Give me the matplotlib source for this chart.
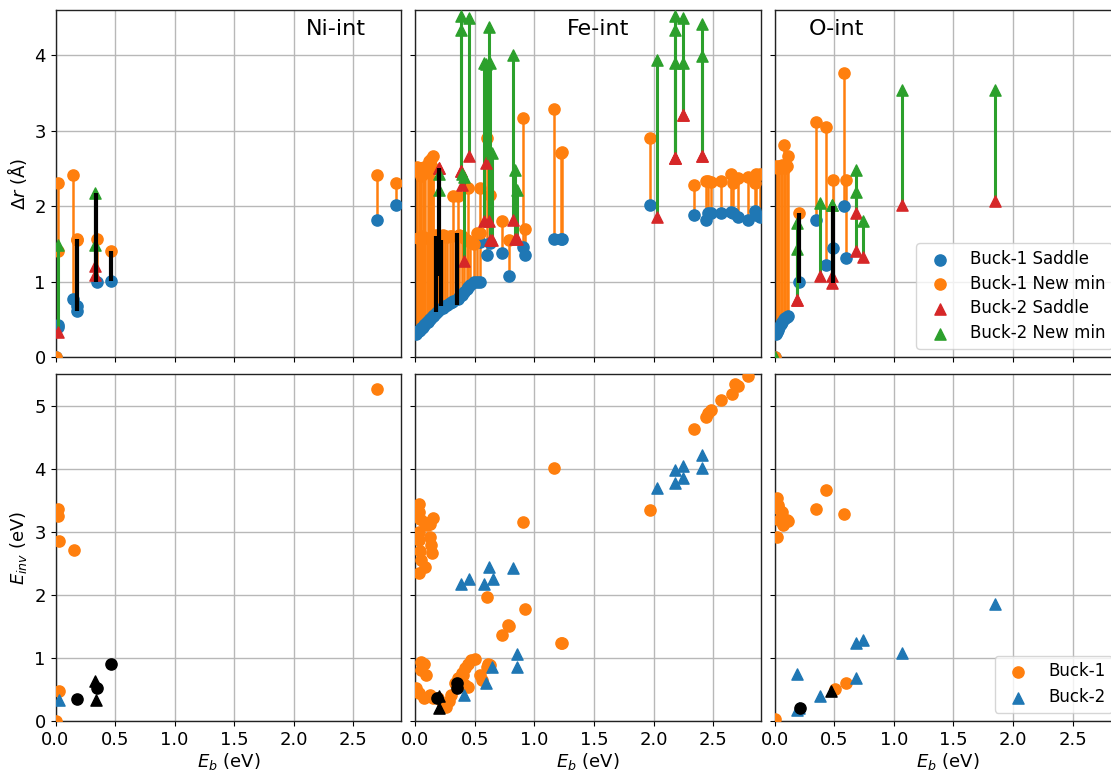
import matplotlib
matplotlib.use("Agg")
import matplotlib.pyplot as plt

BLUE = "#1f77b4"
ORANGE = "#ff7f0e"
RED = "#d62728"
GREEN = "#2ca02c"

# ---------------- Ni-int ----------------
ni_b1_eb = [0.0, 0.023, 0.025, 0.15, 0.18, 0.18, 0.345, 0.47, 2.70, 2.86]
ni_b1_sad = [0.0, 0.42, 0.40, 0.77, 0.61, 0.67, 1.00, 1.01, 1.82, 2.01]
ni_b1_min = [0.0, 2.31, 1.40, 2.41, 1.57, 1.55, 1.57, 1.40, 2.41, 2.31]
ni_b2_eb = [0.02, 0.33, 0.335]
ni_b2_sad = [0.33, 1.20, 1.09]
ni_b2_min = [1.48, 1.49, 2.18]
ni_both_eb = [0.18, 0.34, 0.47]
ni_both_lo = [0.61, 1.00, 1.01]
ni_both_hi = [1.57, 2.18, 1.40]
ni_inv1_eb = [0.0, 0.023, 0.023, 0.03, 0.152, 0.03, 2.70]
ni_inv1 = [0.0, 3.36, 3.26, 2.86, 2.71, 0.47, 5.26]
ni_inv2_eb = [0.03]
ni_inv2 = [0.33]
ni_invk1_eb = [0.18, 0.347, 0.47]
ni_invk1 = [0.35, 0.52, 0.90]
ni_invk2_eb = [0.328, 0.34]
ni_invk2 = [0.63, 0.33]

# ---------------- Fe-int ----------------
fe_b1_eb = [0.005, 0.015, 0.025, 0.030, 0.040, 0.050, 0.055, 0.065, 0.075, 0.085,
            0.095, 0.105, 0.115, 0.125, 0.135, 0.145, 0.150, 0.160, 0.170, 0.190,
            0.210, 0.230, 0.250, 0.270, 0.290, 0.310, 0.320, 0.360, 0.370, 0.390,
            0.410, 0.430, 0.440, 0.460, 0.490, 0.520, 0.540, 0.540, 0.600, 0.630,
            0.730, 0.790, 0.900, 0.920, 1.160, 1.220, 1.230, 1.970, 2.340, 2.440,
            2.460, 2.480, 2.570, 2.650, 2.670, 2.710, 2.790, 2.850, 2.860, 2.890]
fe_b1_sad = [0.31, 0.33, 0.34, 0.35, 0.36, 0.38, 0.39, 0.40, 0.42, 0.44,
             0.46, 0.47, 0.49, 0.51, 0.52, 0.54, 0.55, 0.56, 0.58, 0.61,
             0.63, 0.65, 0.67, 0.69, 0.71, 0.73, 0.74, 0.77, 0.79, 0.82,
             0.86, 0.90, 0.93, 0.96, 0.99, 1.00, 1.00, 1.53, 1.35, 1.51,
             1.38, 1.07, 1.46, 1.35, 1.56, 1.56, 1.57, 2.02, 1.88, 1.82,
             1.91, 1.91, 1.91, 1.92, 1.91, 1.85, 1.81, 1.94, 1.88, 1.86]
fe_b1_min = [2.48, 2.52, 1.58, 2.45, 2.50, 2.40, 1.60, 2.47, 2.52, 2.44,
             1.58, 2.55, 2.60, 2.58, 2.63, 2.66, 2.50, 1.58, 1.62, 1.60,
             1.58, 1.62, 1.60, 1.59, 1.61, 1.60, 2.13, 2.13, 1.62, 1.60,
             1.58, 1.55, 2.24, 1.52, 1.50, 1.64, 2.24, 1.64, 2.90, 2.15,
             1.80, 1.55, 3.17, 1.70, 3.29, 2.70, 2.72, 2.90, 2.28, 2.33,
             2.33, 2.32, 2.33, 2.43, 2.30, 2.37, 2.38, 2.30, 2.42, 2.42]
fe_b2_eb = [0.20, 0.20, 0.38, 0.38, 0.39, 0.41, 0.45, 0.58, 0.59, 0.62, 0.63, 0.64,
            0.82, 0.84, 0.85, 2.03, 2.18, 2.18, 2.18, 2.25, 2.25, 2.41, 2.41]
fe_b2_sad = [2.50, 2.50, 2.46, 2.46, 2.28, 1.27, 2.66, 1.80, 2.57, 1.80, 1.55, 1.55,
             1.82, 1.57, 1.57, 1.86, 2.64, 2.64, 2.64, 3.21, 3.21, 2.67, 2.67]
fe_b2_min = [2.42, 2.22, 4.52, 4.34, 2.42, 2.39, 4.49, 3.90, 3.88, 4.38, 3.90, 2.70,
             4.01, 2.48, 2.22, 3.94, 4.52, 4.34, 3.90, 4.49, 3.90, 4.41, 3.99]
fe_both_eb = [0.174, 0.199, 0.216, 0.347]
fe_both_lo = [0.60, 1.07, 0.67, 0.69]
fe_both_hi = [1.60, 2.50, 1.55, 1.64]
fe_inv1_eb = [1.16, 0.90, 1.97, 2.34, 2.44, 2.46, 2.48, 2.57, 2.66, 2.68, 2.71, 2.79,
              0.60, 0.92, 0.73, 0.79, 0.78, 1.22, 1.23,
              0.03, 0.03, 0.04, 0.07, 0.10, 0.15, 0.12, 0.03, 0.03, 0.12, 0.13, 0.14,
              0.04, 0.05, 0.08, 0.03,
              0.05, 0.07, 0.05, 0.09, 0.01, 0.03, 0.07, 0.12, 0.15, 0.19, 0.23, 0.28,
              0.30, 0.33, 0.36, 0.39, 0.42, 0.44, 0.47, 0.50, 0.40, 0.42, 0.44, 0.54,
              0.56, 0.61, 0.63, 0.60, 0.26]
fe_inv1 = [4.01, 3.16, 3.35, 4.63, 4.83, 4.89, 4.94, 5.10, 5.18, 5.34, 5.31, 5.47,
           1.97, 1.78, 1.37, 1.50, 1.52, 1.23, 1.23,
           3.45, 3.32, 3.21, 3.16, 3.11, 3.22, 3.13, 3.00, 2.87, 2.92, 2.79, 2.66,
           2.69, 2.55, 2.45, 2.34,
           0.94, 0.91, 0.81, 0.73, 0.52, 0.44, 0.36, 0.41, 0.36, 0.36, 0.25, 0.31,
           0.41, 0.60, 0.68, 0.76, 0.84, 0.91, 0.97, 0.99, 0.73, 0.57, 0.54, 0.73,
           0.65, 0.91, 0.89, 0.86, 0.23]
fe_inv2_eb = [0.38, 0.45, 0.58, 0.62, 0.65, 0.82, 0.41, 0.59, 0.64, 0.85, 0.85,
              2.03, 2.18, 2.18, 2.25, 2.25, 2.41, 2.41]
fe_inv2 = [2.18, 2.25, 2.18, 2.44, 2.25, 2.42, 0.41, 0.60, 0.86, 1.06, 0.86,
           3.69, 3.78, 3.98, 4.04, 3.85, 4.22, 4.02]
fe_invk1_eb = [0.18, 0.35, 0.35]
fe_invk1 = [0.36, 0.60, 0.52]
fe_invk2_eb = [0.20, 0.20]
fe_invk2 = [0.39, 0.20]

# ---------------- O-int ----------------
o_b1_eb = [0.0, 0.01, 0.02, 0.03, 0.04, 0.05, 0.06, 0.078, 0.09, 0.10, 0.11,
           0.20, 0.35, 0.43, 0.49, 0.58, 0.60]
o_b1_sad = [0.0, 0.31, 0.33, 0.36, 0.40, 0.44, 0.47, 0.50, 0.52, 0.53, 0.54,
            1.00, 1.81, 1.22, 1.44, 2.00, 1.31]
o_b1_min = [0.0, 2.53, 2.50, 2.52, 2.53, 2.50, 2.54, 2.81, 2.50, 2.53, 2.66,
            1.91, 3.11, 3.05, 2.35, 3.76, 2.35]
o_b2_eb = [0.0, 0.19, 0.19, 0.38, 0.48, 0.48, 0.68, 0.68, 0.74, 1.07, 1.85]
o_b2_sad = [0.0, 0.75, 0.75, 1.07, 1.08, 0.98, 1.40, 1.91, 1.33, 2.02, 2.07]
o_b2_min = [0.0, 1.43, 1.78, 2.04, 2.02, 2.02, 2.19, 2.48, 1.80, 3.54, 3.54]
o_both_eb = [0.20, 0.49]
o_both_lo = [0.98, 0.98]
o_both_hi = [1.91, 2.00]
o_inv1_eb = [0.02, 0.03, 0.04, 0.06, 0.04, 0.07, 0.10, 0.11, 0.02, 0.35, 0.43, 0.58,
             0.60, 0.51, 0.0]
o_inv1 = [3.53, 3.42, 3.37, 3.32, 3.19, 3.11, 3.19, 3.17, 2.92, 3.36, 3.66, 3.29,
          0.60, 0.51, 0.03]
o_inv2_eb = [0.19, 0.19, 0.20, 0.38, 0.68, 0.68, 0.74, 1.07, 1.85]
o_inv2 = [0.74, 0.17, 0.20, 0.39, 0.68, 1.23, 1.28, 1.08, 1.85]
o_invk1_eb = [0.21]
o_invk1 = [0.21]
o_invk2_eb = [0.47]
o_invk2 = [0.48]

panels = [
    dict(name="Ni-int", name_x=2.35,
         b1=(ni_b1_eb, ni_b1_sad, ni_b1_min), b2=(ni_b2_eb, ni_b2_sad, ni_b2_min),
         both=(ni_both_eb, ni_both_lo, ni_both_hi),
         inv1=(ni_inv1_eb, ni_inv1), inv2=(ni_inv2_eb, ni_inv2),
         invk1=(ni_invk1_eb, ni_invk1), invk2=(ni_invk2_eb, ni_invk2)),
    dict(name="Fe-int", name_x=1.53,
         b1=(fe_b1_eb, fe_b1_sad, fe_b1_min), b2=(fe_b2_eb, fe_b2_sad, fe_b2_min),
         both=(fe_both_eb, fe_both_lo, fe_both_hi),
         inv1=(fe_inv1_eb, fe_inv1), inv2=(fe_inv2_eb, fe_inv2),
         invk1=(fe_invk1_eb, fe_invk1), invk2=(fe_invk2_eb, fe_invk2)),
    dict(name="O-int", name_x=0.52,
         b1=(o_b1_eb, o_b1_sad, o_b1_min), b2=(o_b2_eb, o_b2_sad, o_b2_min),
         both=(o_both_eb, o_both_lo, o_both_hi),
         inv1=(o_inv1_eb, o_inv1), inv2=(o_inv2_eb, o_inv2),
         invk1=(o_invk1_eb, o_invk1), invk2=(o_invk2_eb, o_invk2)),
]

plt.rcParams.update({
    "font.family": "DejaVu Sans",
    "font.size": 13,
    "axes.linewidth": 1.0,
    "axes.edgecolor": "#222222",
    "grid.color": "#b8b8b8",
    "grid.linewidth": 1.0,
})

W, H = 1111, 773
fig = plt.figure(figsize=(W / 100, H / 100), dpi=100)

col_left = [55.5, 415.3, 774.7]
ax_w = 345.5
rows = [(10, 357), (374.3, 721)]

MS = 65
axes_top, axes_bot = [], []
for i, p in enumerate(panels):
    l = col_left[i] / W
    w = ax_w / W
    t0, b0 = rows[0]
    t1, b1 = rows[1]
    share_top = axes_top[0] if axes_top else None
    share_bot = axes_bot[0] if axes_bot else None
    at = fig.add_axes([l, 1 - b0 / H, w, (b0 - t0) / H],
                      sharey=share_top, sharex=share_top)
    ab = fig.add_axes([l, 1 - b1 / H, w, (b1 - t1) / H],
                      sharey=share_bot, sharex=at)
    axes_top.append(at)
    axes_bot.append(ab)

    # displacement of saddle and new minimum for each transition
    eb, sad, mn = p["b1"]
    at.vlines(eb, sad, mn, colors=ORANGE, lw=1.8, zorder=2)
    at.scatter(eb, sad, s=MS, marker="o", color=BLUE, zorder=3,
               label="Buck-1 Saddle")
    at.scatter(eb, mn, s=MS, marker="o", color=ORANGE, zorder=3.1,
               label="Buck-1 New min")
    eb2, sad2, mn2 = p["b2"]
    at.vlines(eb2, sad2, mn2, colors=GREEN, lw=2.2, zorder=3.5)
    at.scatter(eb2, sad2, s=MS, marker="^", color=RED, zorder=4,
               label="Buck-2 Saddle")
    at.scatter(eb2, mn2, s=MS, marker="^", color=GREEN, zorder=4.1,
               label="Buck-2 New min")
    ebk, lo, hi = p["both"]
    at.vlines(ebk, lo, hi, colors="black", lw=3, zorder=5)
    at.text(p["name_x"], 4.35, p["name"], fontsize=16, ha="center", va="center")

    # inverse barrier against forward barrier
    ab.scatter(*p["inv1"], s=MS, marker="o", color=ORANGE, zorder=3, label="Buck-1")
    ab.scatter(*p["inv2"], s=MS, marker="^", color=BLUE, zorder=3, label="Buck-2")
    ab.scatter(*p["invk1"], s=MS, marker="o", color="black", zorder=4)
    ab.scatter(*p["invk2"], s=MS, marker="^", color="black", zorder=4)

    for ax in (at, ab):
        ax.grid(True)
        ax.set_axisbelow(True)
        ax.tick_params(labelsize=13)
    ab.set_xlabel(r"$E_b$ (eV)", fontsize=13, labelpad=2)
    at.tick_params(labelbottom=False)
    if i > 0:
        at.tick_params(labelleft=False)
        ab.tick_params(labelleft=False)

axes_top[0].set_xlim(0, 2.9)
axes_top[0].set_ylim(0, 4.6)
axes_bot[0].set_ylim(0, 5.5)
axes_top[0].set_xticks([0, 0.5, 1.0, 1.5, 2.0, 2.5])
axes_top[0].set_yticks([0, 1, 2, 3, 4])
axes_bot[0].set_yticks([0, 1, 2, 3, 4, 5])
axes_top[0].set_ylabel("$\\Delta r$ (Å)", fontsize=13)
axes_bot[0].set_ylabel(r"$E_{inv}$ (eV)", fontsize=13)

axes_top[2].legend(loc="lower right", fontsize=12, labelspacing=0.4)
axes_bot[2].legend(loc="lower right", fontsize=12, labelspacing=0.45)

fig.savefig("out.png", dpi=100)
